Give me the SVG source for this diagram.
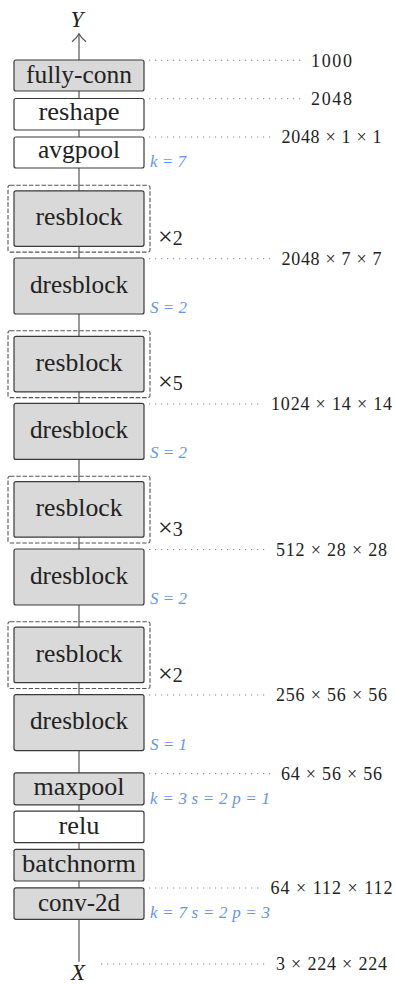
<svg xmlns="http://www.w3.org/2000/svg" width="395" height="984" viewBox="0 0 395 984">
<style>
.box{stroke:#3a3a3a;stroke-width:1.2;}
.g{fill:#d9d9d9;}
.w{fill:#ffffff;}
.dash{fill:none;stroke:#555;stroke-width:1.1;stroke-dasharray:4.5 1.8;}
.dot{fill:none;stroke:#888;stroke-width:1;stroke-dasharray:1.2 4.8;}
text{font-family:'Liberation Serif','Tinos','Times New Roman','DejaVu Serif','Noto Serif',serif;}
.lbl{font-size:25px;fill:#222;text-anchor:middle;}
.dim{font-size:18px;fill:#222;text-anchor:middle;}
.par{font-size:17px;font-style:italic;fill:#6495ED;}
.rep{font-size:20px;fill:#222;}
.var{font-size:23px;font-style:italic;fill:#222;text-anchor:middle;}
.conn{stroke:#555;stroke-width:1.2;fill:none;}
</style>
<defs>
<marker id="arr" viewBox="0 0 10 16" refX="9" refY="8" markerWidth="10" markerHeight="16" markerUnits="userSpaceOnUse" orient="auto">
<path d="M1,1 Q5,6 9,8 Q5,10 1,15" fill="none" stroke="#555" stroke-width="1.2"/>
</marker>
</defs>

<g id="connectors">
<line class="conn" x1="79" y1="961.7" x2="79" y2="33.8" marker-end="url(#arr)"/>
</g>

<g id="dims">
<line class="dot" x1="149" y1="60.3" x2="305" y2="60.3"/>
<text class="dim" x="331.5" y="66.5" textLength="41">1000</text>
<line class="dot" x1="149" y1="98.7" x2="305" y2="98.7"/>
<text class="dim" x="331.5" y="104.7" textLength="41">2048</text>
<line class="dot" x1="149" y1="137" x2="272" y2="137"/>
<text class="dim" x="331.5" y="143" textLength="100">2048 × 1 × 1</text>
<line class="dot" x1="149" y1="258.7" x2="272" y2="258.7"/>
<text class="dim" x="331.5" y="264.7" textLength="100">2048 × 7 × 7</text>
<line class="dot" x1="149" y1="404" x2="260" y2="404"/>
<text class="dim" x="331.5" y="410" textLength="121">1024 × 14 × 14</text>
<line class="dot" x1="149" y1="549.5" x2="267" y2="549.5"/>
<text class="dim" x="331.5" y="555.5" textLength="111">512 × 28 × 28</text>
<line class="dot" x1="149" y1="695" x2="267" y2="695"/>
<text class="dim" x="331.5" y="701" textLength="111">256 × 56 × 56</text>
<line class="dot" x1="149" y1="773.7" x2="272" y2="773.7"/>
<text class="dim" x="331.5" y="779.7" textLength="101">64 × 56 × 56</text>
<line class="dot" x1="149" y1="888" x2="259" y2="888"/>
<text class="dim" x="331.5" y="894" textLength="122">64 × 112 × 112</text>
<line class="dot" x1="101" y1="964" x2="269" y2="964"/>
<text class="dim" x="331.5" y="970" textLength="111">3 × 224 × 224</text>
</g>

<g id="Y"><text class="var" x="77" y="26.7">Y</text></g>
<g id="X"><text class="var" x="78" y="979.5">X</text></g>

<g id="fully-conn"><rect class="box g" x="14" y="60" width="130" height="31" rx="2"/><text class="lbl" x="79" y="83.3" textLength="106" lengthAdjust="spacingAndGlyphs">fully-conn</text></g>
<g id="reshape"><rect class="box w" x="14" y="98.5" width="130" height="31.5" rx="2"/><text class="lbl" x="79" y="120" textLength="81" lengthAdjust="spacingAndGlyphs">reshape</text></g>
<g id="avgpool"><rect class="box w" x="14" y="137" width="130" height="31" rx="2"/><text class="lbl" x="79" y="158" textLength="82" lengthAdjust="spacingAndGlyphs">avgpool</text><text class="par" x="150" y="166.7">k = 7</text></g>

<g id="resblock1"><rect class="dash" x="8" y="185.3" width="142" height="66.8" rx="2"/><rect class="box g" x="14" y="190.8" width="130" height="55.5" rx="2"/><text class="lbl" x="79" y="225.3" textLength="87" lengthAdjust="spacingAndGlyphs">resblock</text><text class="rep" x="158" y="245"><tspan font-size="26">×</tspan>2</text></g>
<g id="dresblock1"><rect class="box g" x="14" y="258" width="130" height="56" rx="2"/><text class="lbl" x="79" y="292.7" textLength="98" lengthAdjust="spacingAndGlyphs">dresblock</text><text class="par" x="150" y="313">S = 2</text></g>

<g id="resblock2"><rect class="dash" x="8" y="330.8" width="142" height="66.8" rx="2"/><rect class="box g" x="14" y="336.3" width="130" height="55.5" rx="2"/><text class="lbl" x="79" y="370.8" textLength="87" lengthAdjust="spacingAndGlyphs">resblock</text><text class="rep" x="158" y="390.4"><tspan font-size="26">×</tspan>5</text></g>
<g id="dresblock2"><rect class="box g" x="14" y="403.4" width="130" height="56" rx="2"/><text class="lbl" x="79" y="438.1" textLength="98" lengthAdjust="spacingAndGlyphs">dresblock</text><text class="par" x="150" y="458.4">S = 2</text></g>

<g id="resblock3"><rect class="dash" x="8" y="476.2" width="142" height="66.8" rx="2"/><rect class="box g" x="14" y="481.7" width="130" height="55.5" rx="2"/><text class="lbl" x="79" y="516.2" textLength="87" lengthAdjust="spacingAndGlyphs">resblock</text><text class="rep" x="158" y="535.8"><tspan font-size="26">×</tspan>3</text></g>
<g id="dresblock3"><rect class="box g" x="14" y="549" width="130" height="56" rx="2"/><text class="lbl" x="79" y="583.7" textLength="98" lengthAdjust="spacingAndGlyphs">dresblock</text><text class="par" x="150" y="604">S = 2</text></g>

<g id="resblock4"><rect class="dash" x="8" y="621.7" width="142" height="66.8" rx="2"/><rect class="box g" x="14" y="627.2" width="130" height="55.5" rx="2"/><text class="lbl" x="79" y="661.7" textLength="87" lengthAdjust="spacingAndGlyphs">resblock</text><text class="rep" x="158" y="681.5"><tspan font-size="26">×</tspan>2</text></g>
<g id="dresblock4"><rect class="box g" x="14" y="694.6" width="130" height="56" rx="2"/><text class="lbl" x="79" y="729.3" textLength="98" lengthAdjust="spacingAndGlyphs">dresblock</text><text class="par" x="150" y="749.6">S = 1</text></g>

<g id="maxpool"><rect class="box g" x="14" y="772.8" width="130" height="32" rx="2"/><text class="lbl" x="79" y="795" textLength="91" lengthAdjust="spacingAndGlyphs">maxpool</text><text class="par" x="150" y="804" textLength="120">k = 3  s = 2  p = 1</text></g>
<g id="relu"><rect class="box w" x="14" y="811.2" width="130" height="31.5" rx="2"/><text class="lbl" x="79" y="834" textLength="41" lengthAdjust="spacingAndGlyphs">relu</text></g>
<g id="batchnorm"><rect class="box g" x="14" y="849.3" width="130" height="31.7" rx="2"/><text class="lbl" x="79" y="872" textLength="114" lengthAdjust="spacingAndGlyphs">batchnorm</text></g>
<g id="conv-2d"><rect class="box g" x="14" y="887.8" width="130" height="31.5" rx="2"/><text class="lbl" x="79" y="910.5" textLength="82" lengthAdjust="spacingAndGlyphs">conv-2d</text><text class="par" x="150" y="918" textLength="120">k = 7  s = 2  p = 3</text></g>
</svg>
